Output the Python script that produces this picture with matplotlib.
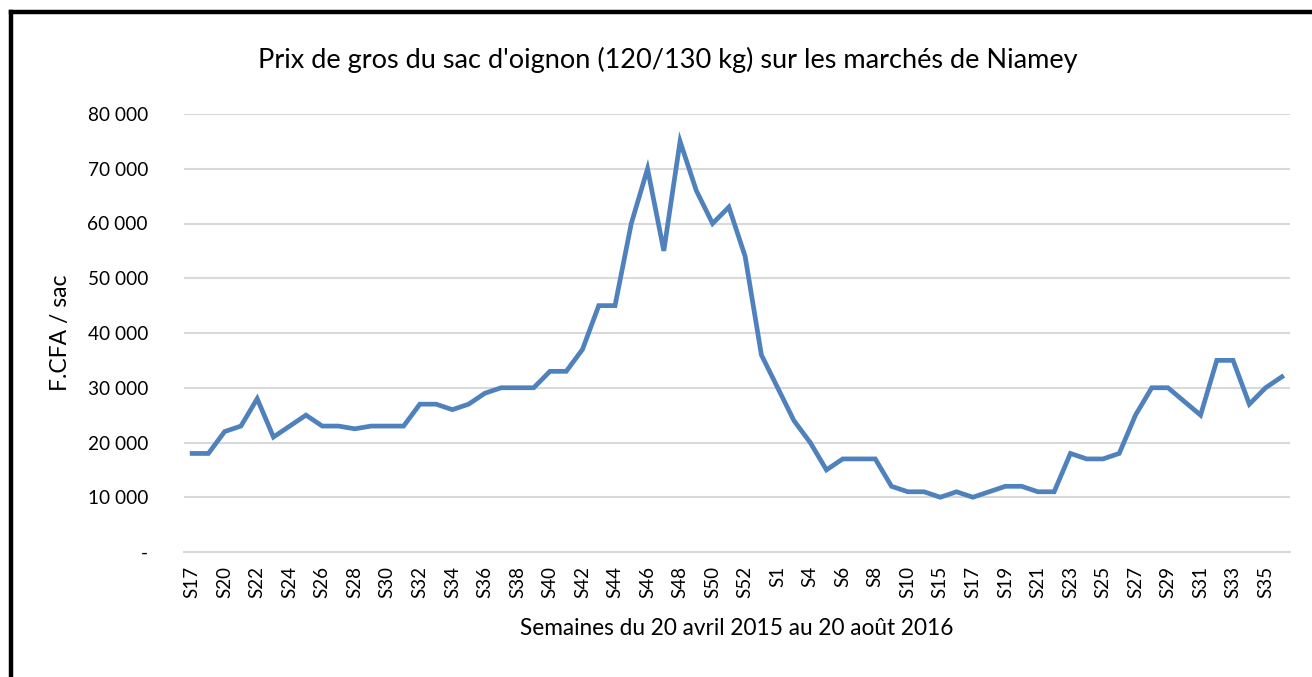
import matplotlib.pyplot as plt
from matplotlib.lines import Line2D

# semaines (S17 2015 -> S36 2016), une étiquette sur deux affichée
semaines = ['S17', 'S19', 'S20', 'S21', 'S22', 'S23', 'S24', 'S25', 'S26', 'S27',
            'S28', 'S29', 'S30', 'S31', 'S32', 'S33', 'S34', 'S35', 'S36', 'S37',
            'S38', 'S39', 'S40', 'S41', 'S42', 'S43', 'S44', 'S45', 'S46', 'S47',
            'S48', 'S49', 'S50', 'S51', 'S52', 'S53', 'S1', 'S3', 'S4', 'S5',
            'S6', 'S7', 'S8', 'S9', 'S10', 'S12', 'S15', 'S16', 'S17', 'S18',
            'S19', 'S20', 'S21', 'S22', 'S23', 'S24', 'S25', 'S26', 'S27', 'S28',
            'S29', 'S30', 'S31', 'S32', 'S33', 'S34', 'S35', 'S36']

prix = [18000, 18000, 22000, 23000, 28000, 21000, 23000, 25000, 23000, 23000,
        22500, 23000, 23000, 23000, 27000, 27000, 26000, 27000, 29000, 30000,
        30000, 30000, 33000, 33000, 37000, 45000, 45000, 60000, 70000, 55000,
        75000, 66000, 60000, 63000, 54000, 36000, 30000, 24000, 20000, 15000,
        17000, 17000, 17000, 12000, 11000, 11000, 10000, 11000, 10000, 11000,
        12000, 12000, 11000, 11000, 18000, 17000, 17000, 18000, 25000, 30000,
        30000, 27500, 25000, 35000, 35000, 27000, 30000, 32000]

yticks = [0, 10000, 20000, 30000, 40000, 50000, 60000, 70000, 80000]
ylabels = ['-', '10 000', '20 000', '30 000', '40 000', '50 000', '60 000', '70 000', '80 000']

plt.rcParams['font.family'] = ['Lato', 'DejaVu Sans']

fig = plt.figure(figsize=(13.12, 6.77), dpi=100)
ax = fig.add_axes([184/1312, 1 - 552/677, (1290 - 184)/1312, (552 - 114)/677])

x = list(range(len(prix)))
ax.plot(x, prix, color='#4F81BD', linewidth=3.4, solid_joinstyle='miter', zorder=3)

ax.set_xlim(-0.5, len(prix) - 0.5)
ax.set_ylim(0, 80000)
ax.set_yticks(yticks)
ax.set_yticklabels(ylabels, fontsize=13.7)
ax.set_xticks(x[::2])
ax.set_xticklabels(semaines[::2], rotation=90, fontsize=13.5)
ax.tick_params(length=0)
ax.tick_params(axis='y', pad=26)
ax.tick_params(axis='x', pad=10)

ax.grid(axis='y', color='#D9D9D9', linewidth=1.5)
ax.set_axisbelow(True)
for s in ['top', 'right', 'left']:
    ax.spines[s].set_visible(False)
ax.spines['bottom'].set_color('#D9D9D9')
ax.spines['bottom'].set_linewidth(1.5)

ax.set_ylabel('F.CFA / sac', fontsize=16.5, labelpad=12)
ax.set_xlabel('Semaines du 20 avril 2015 au 20 août 2016', fontsize=16.3, labelpad=14)
fig.text(668/1312, 1 - 60/677, "Prix de gros du sac d'oignon (120/130 kg) sur les marchés de Niamey",
         ha='center', va='center', fontsize=19.5)

# cadre noir (coupé à droite et en bas)
bx = 11/1312
by = 1 - 12/677
fig.add_artist(Line2D([bx, bx], [0, by], transform=fig.transFigure, color='black', linewidth=3.2))
fig.add_artist(Line2D([bx, 1], [by, by], transform=fig.transFigure, color='black', linewidth=3.2))

fig.savefig('out.png', dpi=100)
